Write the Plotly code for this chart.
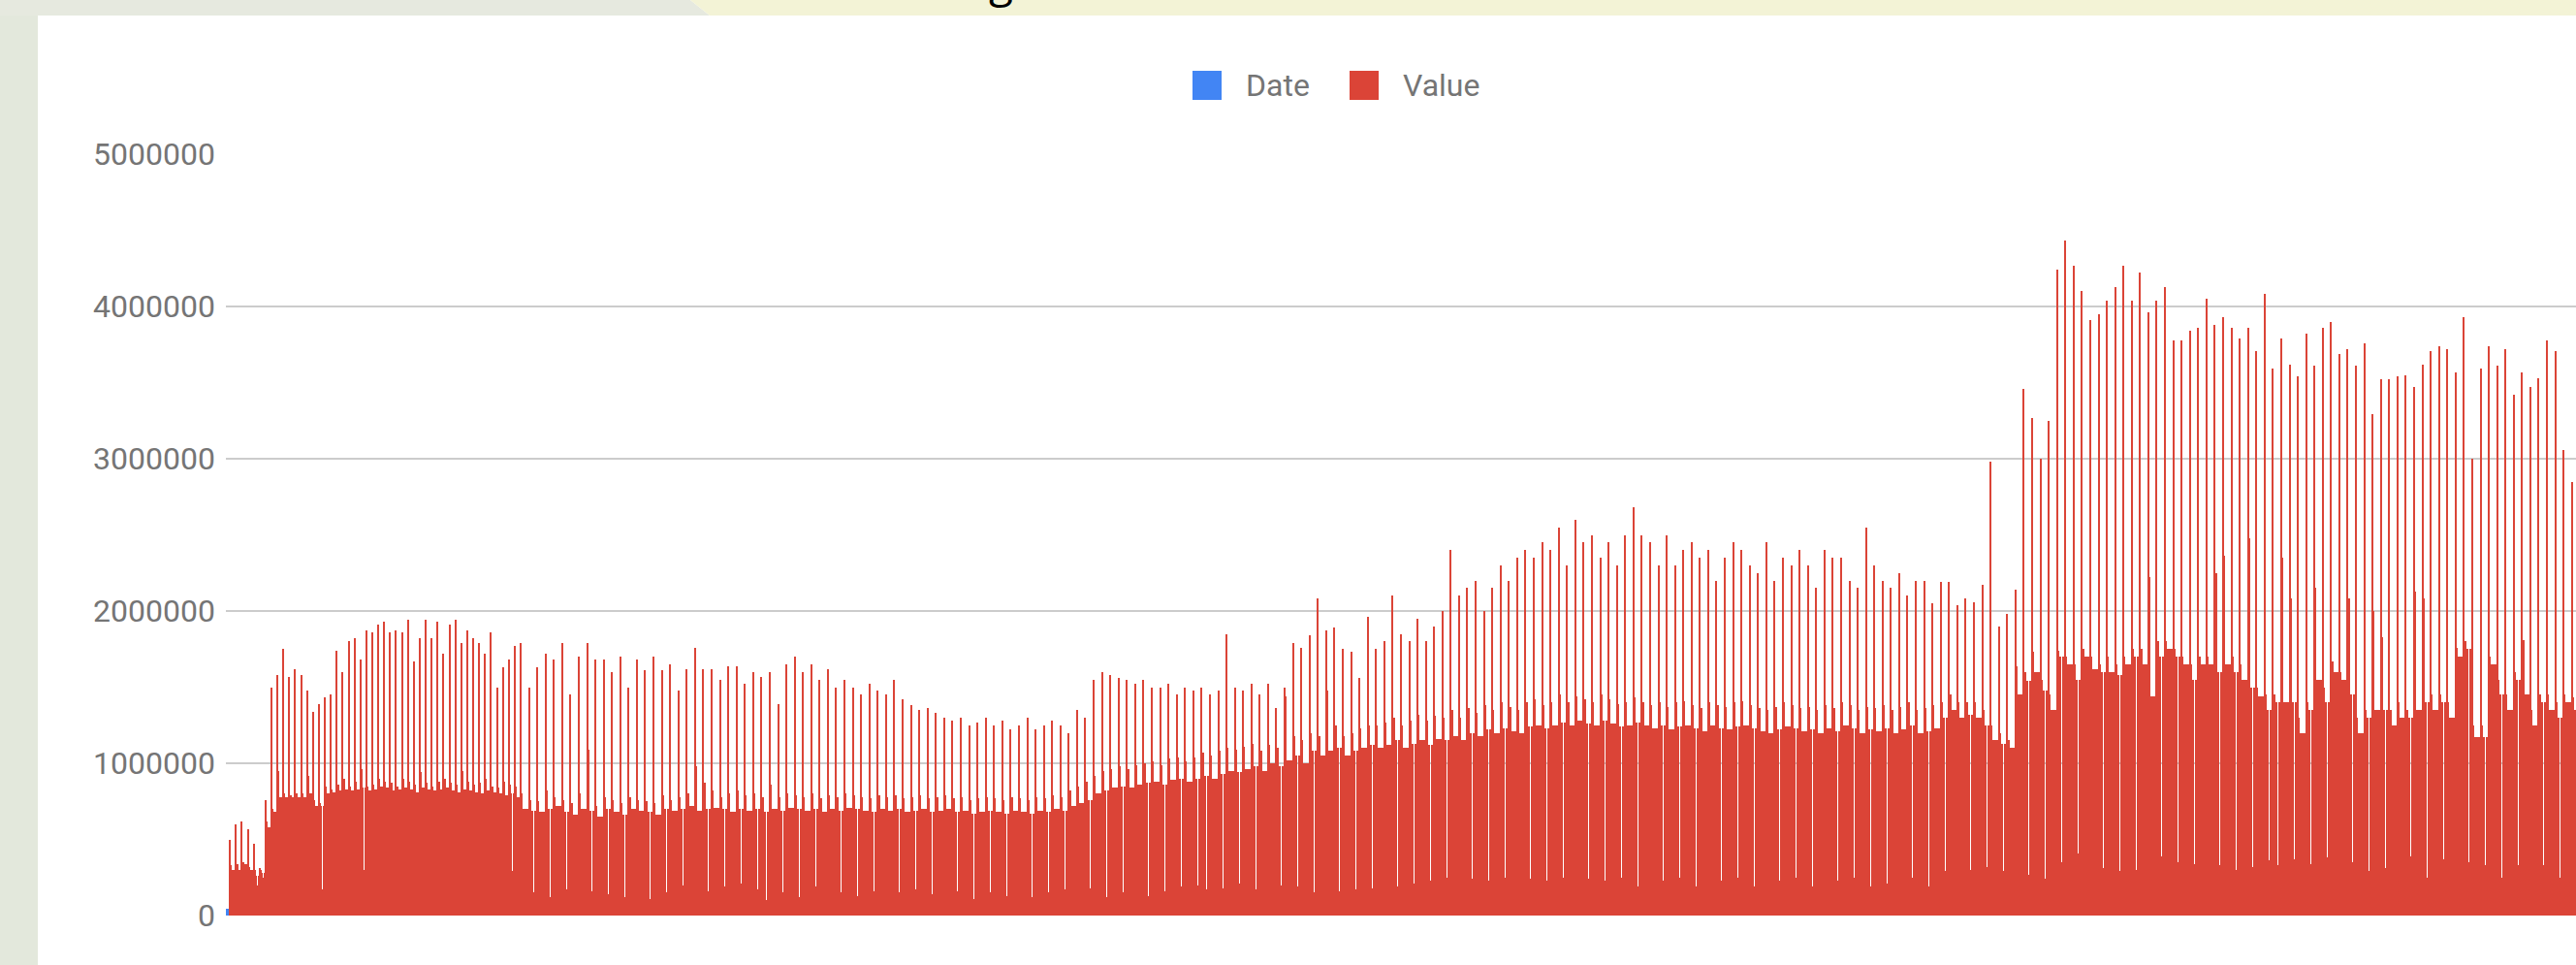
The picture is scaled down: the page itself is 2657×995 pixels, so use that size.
import plotly.graph_objects as go

# ================= data (values in thousands) =================
# Early period: 5 bars per weekly cycle  -> [peak, hi, base, dip, base]
early_peak = [500, 600, 620, 570, 470, 310, 760, 1500, 1580, 1750,
              1570, 1620, 1580, 1480, 1340, 1390, 1430, 1450, 1740, 1600,
              1800, 1820, 1680, 1870, 1860, 1910, 1930, 1860, 1870, 1860,
              1940, 1670, 1820, 1940, 1820, 1930, 1720, 1910, 1940, 1790,
              1870, 1820, 1790, 1720, 1860, 1500, 1630, 1680, 1770]
early_hi = [330, 340, 350, 320, 300, 300, 620, 700, 950, 800,
            790, 800, 800, 920, 760, 740, 850, 830, 860, 900,
            850, 880, 960, 850, 860, 900, 880, 870, 850, 900,
            880, 860, 940, 870, 850, 880, 900, 870, 860, 950,
            880, 860, 870, 900, 850, 840, 880, 860, 850]
early_base = [300, 300, 340, 300, 260, 280, 580, 680, 780, 780,
              780, 780, 780, 800, 720, 720, 800, 810, 820, 830,
              820, 830, 840, 820, 830, 850, 840, 820, 830, 840,
              830, 810, 840, 830, 820, 830, 840, 820, 810, 830,
              820, 810, 800, 820, 810, 800, 790, 800, 780]
early_dip = [300, 230, 340, 300, 200, 250, 580, 680, 210, 780,
             780, 780, 780, 800, 720, 170, 800, 810, 240, 830,
             820, 830, 300, 820, 830, 850, 840, 820, 830, 840,
             830, 810, 840, 830, 210, 830, 840, 820, 810, 830,
             820, 810, 800, 820, 810, 800, 790, 290, 780]

# Later period: 7 bars per weekly cycle -> [peak, hi, base, base, dip, base, base]
peak = [1790, 1500, 1630, 1720, 1680, 1790, 1450, 1700, 1790, 1680,   # k0-9
        1680, 1600, 1700, 1500, 1680, 1610, 1700, 1610, 1650,         # k10-18
        1480, 1620, 1760, 1620, 1620, 1550, 1640, 1640, 1520, 1600,   # k19-28
        1570, 1600, 1390,                                             # k29-31
        1650, 1700, 1600, 1650, 1550, 1620, 1500, 1550, 1500, 1450,   # k32-41
        1520, 1480, 1450, 1550, 1420, 1380, 1350, 1360, 1330, 1300,   # k42-51
        1280, 1300, 1250, 1270, 1300, 1250, 1280, 1220, 1250, 1300,   # k52-61
        1220, 1250, 1280, 1250, 1200, 1350, 1300, 1550, 1600, 1580,   # k62-71
        1560, 1550, 1520, 1550, 1500, 1500, 1520, 1450, 1500, 1480,   # k72-81
        1500, 1450, 1480, 1850, 1500, 1480, 1520,                     # k82-88
        1450, 1520, 1360, 1500, 1790, 1760, 1840, 2080, 1870, 1890,   # k89-98
        1750, 1730, 1560, 1960,                                       # k99-102
        1750, 1800, 2100, 1850, 1800, 1950, 1800, 1900, 2000, 2400,   # k103-112
        2100, 2150, 2200, 2000, 2150, 2300, 2200, 2350, 2400, 2350,   # k113-122
        2450, 2400, 2550, 2300, 2600, 2450, 2500, 2350, 2450, 2300,   # k123-132
        2500, 2680, 2500, 2450, 2300, 2500, 2300, 2400, 2450, 2350,   # k133-142
        2400, 2200, 2350, 2450, 2400, 2300, 2250, 2450, 2200, 2350,   # k143-152
        2300, 2400, 2300, 2150, 2400, 2350, 2350, 2200, 2150, 2550,   # k153-162
        2300, 2200, 2150, 2250, 2100, 2200, 2200, 2050,               # k163-170
        2190, 2190, 2040, 2080, 2060, 2170, 2980, 1900, 1980, 2140,   # k171-180
        3460, 3270, 3000, 3250, 4240, 4430, 4270, 4100, 3910, 3950,   # k181-190
        4040, 4130, 4270, 4040, 4220, 3960, 4040, 4130, 3780, 3780,   # k191-200
        3840, 3860, 4050, 3880, 3930, 3860, 3790, 3860, 3710, 4080,   # k201-210
        3590, 3790, 3620, 3540, 3820, 3610, 3860, 3900, 3690, 3720,   # k211-220
        3610, 3760, 3290, 3520, 3520, 3540, 3550, 3470, 3620, 3710,   # k221-230
        3740, 3720, 3570, 3930, 3000, 3590, 3740, 3610, 3720, 3420,   # k231-240
        3570, 3470, 3530, 3780, 3710, 3060, 2850]                     # k241-247

hi = [800, 760, 750, 820, 780, 760, 740, 800, 1090, 720,
      780, 760, 740, 780, 760, 750, 740, 790, 760,
      780, 800, 980, 870, 820, 780, 800, 820, 790, 800,
      780, 860, 780,
      800, 790, 780, 800, 770, 790, 780, 800, 790, 780,
      770, 790, 780, 790, 770, 780, 790, 770, 780, 790,
      770, 780, 760, 770, 780, 770, 760, 780, 770, 760,
      780, 770, 790, 780, 820, 850, 880, 920, 950, 960,
      980, 960, 990, 1000, 1010, 990, 1030, 1040, 1010, 1040,
      1070, 1050, 1080, 1100, 1090, 1110, 1130,
      1080, 1120, 1100, 1440, 1180, 1150, 1200, 1180, 1480, 1250,
      1180, 1200, 1230, 1250,
      1250, 1270, 1300, 1250, 1280, 1320, 1280, 1310, 1300, 1350,
      1300, 1360, 1330, 1380, 1350, 1400, 1370, 1350, 1400, 1420,
      1380, 1400, 1450, 1400, 1440, 1420, 1400, 1450, 1420, 1390,
      1400, 1430, 1400, 1380, 1400, 1370, 1400, 1410, 1380, 1360,
      1400, 1380, 1370, 1400, 1410, 1380, 1360, 1350, 1370, 1400,
      1380, 1360, 1370, 1350, 1380, 1360, 1400, 1380, 1350, 1370,
      1360, 1380, 1350, 1370, 1400, 1350, 1360, 1380,
      1400, 1450, 1400, 1400, 1400, 1350, 1250, 1200, 1150, 1640,
      1600, 1730, 1550, 1450, 1740, 1700, 1650, 1750, 1700, 1650,
      1700, 1650, 1700, 1750, 1750, 2220, 1800, 1800, 1750, 1700,
      1650, 1700, 1700, 2250, 2360, 1700, 1650, 2480, 1500, 1450,
      1450, 2350, 2080, 1300, 1400, 2150, 1500, 1670, 1600, 2080,
      1300, 1350, 2000, 1830, 1350, 1400, 1350, 2130, 2080, 1450,
      1450, 1400, 1760, 1800, 1250, 1250, 1700, 1550, 1450, 1600,
      1810, 1350, 1450, 1450, 1400, 1450, 1430]

base = [700, 690, 680, 700, 720, 680, 660, 700, 690, 650,
        700, 680, 660, 700, 690, 680, 660, 700, 690,
        700, 720, 690, 700, 710, 700, 680, 700, 690, 700,
        680, 700, 690,
        710, 700, 690, 700, 680, 700, 690, 710, 700, 690,
        680, 700, 690, 700, 680, 690, 700, 680, 690, 700,
        680, 690, 670, 680, 690, 680, 670, 690, 680, 670,
        690, 680, 700, 690, 720, 740, 760, 800, 820, 840,
        850, 840, 860, 870, 880, 860, 890, 900, 880, 900,
        920, 900, 930, 950, 940, 960, 980,
        950, 1000, 980, 1020, 1050, 1000, 1080, 1050, 1080, 1100,
        1050, 1080, 1100, 1120,
        1100, 1120, 1150, 1100, 1130, 1150, 1120, 1160, 1150, 1180,
        1150, 1200, 1180, 1220, 1200, 1230, 1210, 1200, 1240, 1250,
        1230, 1250, 1270, 1250, 1280, 1260, 1250, 1280, 1260, 1240,
        1250, 1270, 1250, 1230, 1250, 1220, 1240, 1250, 1230, 1210,
        1250, 1230, 1220, 1240, 1250, 1230, 1210, 1200, 1220, 1240,
        1230, 1210, 1220, 1200, 1230, 1210, 1250, 1230, 1200, 1220,
        1210, 1230, 1200, 1220, 1250, 1200, 1210, 1230,
        1300, 1350, 1300, 1320, 1300, 1250, 1150, 1130, 1100, 1450,
        1540, 1600, 1480, 1350, 1700, 1650, 1550, 1700, 1620, 1600,
        1600, 1580, 1650, 1700, 1650, 1440, 1700, 1750, 1700, 1650,
        1550, 1650, 1650, 1600, 1650, 1600, 1550, 1500, 1440, 1350,
        1400, 1400, 1400, 1200, 1350, 1550, 1400, 1600, 1550, 1450,
        1200, 1300, 1350, 1350, 1250, 1300, 1300, 1350, 1400, 1350,
        1400, 1300, 1700, 1750, 1170, 1170, 1650, 1450, 1350, 1550,
        1450, 1250, 1400, 1350, 1300, 1400, 1350]

dip = [180, 150, 200, 120, 220, 170, 100, 190, 160, 210,
       140, 180, 120, 200, 170, 110, 190, 150, 100, 200,
       130, 180, 160, 110, 190, 150, 210, 120, 170, 100,
       180, 150, 200, 120, 160, 190, 110, 170, 150, 200,
       130, 180, 160, 120, 190, 150, 110, 170, 200, 140,
       180, 120, 160, 190, 110, 170, 150, 200, 130, 180,
       160, 120, 190, 150, 110, 170, 200, 140, 180, 160,
       120, 190, 150, 210, 170, 130, 180, 160, 120, 190,
       150, 200, 170, 130, 180, 160, 210, 150, 170,
       150, 180, 200, 160, 190, 170, 150, 200, 180, 160,
       190, 170, 210, 180, 200, 220, 190, 240, 210, 180,
       230, 200, 250, 220, 190, 240, 210, 230, 200, 250,
       220, 190, 240, 210, 230, 200, 250, 220, 190, 240,
       210, 230, 200, 250, 220, 190, 240, 210, 230, 200,
       250, 220, 190, 240, 210, 230, 200, 250, 220, 190,
       240, 210, 230, 200, 250, 220, 190, 240, 210, 230,
       200, 250, 220, 190, 240, 210, 230, 200, 250, 220,
       190, 240,
       290, 290, 220, 300, 270, 320, 290, 290, 220, 380,
       270, 240, 240, 300, 350, 320, 410, 370, 370, 310,
       330, 290, 360, 300, 340, 280, 390, 320, 350, 300,
       340, 370, 290, 330, 380, 300, 350, 320, 280, 360,
       330, 300, 370, 290, 340, 310, 380, 320, 300, 350,
       330, 290, 360, 310, 340, 300, 390, 330, 250, 340,
       370, 330, 300, 350, 390, 330, 300, 250, 360, 330,
       300, 390, 330, 350, 250, 300, 330]

date_value = [45]

values = []
for p, h, b, d in zip(early_peak, early_hi, early_base, early_dip):
    values += [p, h, b, d, b]
for p, h, b, d in zip(peak, hi, base, dip):
    values += [p, h, b, b, d, b, b]
values = [v * 1000 for v in values]

# ================= layout geometry =================
W, H = 2657, 995
L, R, T, B = 233, 0, 159, 51
PW, PH = W - L - R, H - T - B
PPB = 1.2237          # pixels per daily bar
X0 = -3.5
X1 = X0 + PW / PPB


def px(xp):
    return (xp - L) / PW


def py(yp):
    return (H - B - yp) / PH


fig = go.Figure()
fig.add_trace(go.Bar(x=[-2], y=[v * 1000 for v in date_value], width=[3], name="Date",
                     marker=dict(color="#4285f4", line=dict(width=0))))
fig.add_trace(go.Bar(x=list(range(len(values))), y=values, name="Value",
                     marker=dict(color="#db4437", line=dict(width=0))))

shapes = [
    dict(type="rect", xref="paper", yref="paper", x0=px(0), x1=px(39), y0=py(995), y1=py(0),
         fillcolor="#e3e8dc", line=dict(width=0)),
    dict(type="path", xref="paper", yref="paper",
         path=f"M {px(0)},{py(0)} L {px(712)},{py(0)} L {px(732)},{py(16)} L {px(0)},{py(16)} Z",
         fillcolor="#e6e9df", line=dict(width=0)),
    dict(type="path", xref="paper", yref="paper",
         path=f"M {px(712)},{py(0)} L {px(2657)},{py(0)} L {px(2657)},{py(16)} L {px(732)},{py(16)} Z",
         fillcolor="#f3f3d6", line=dict(width=0)),
    # legend swatches
    dict(type="rect", xref="paper", yref="paper", x0=px(1230), x1=px(1260), y0=py(103), y1=py(73),
         fillcolor="#4285f4", line=dict(width=0)),
    dict(type="rect", xref="paper", yref="paper", x0=px(1392), x1=px(1422), y0=py(103), y1=py(73),
         fillcolor="#db4437", line=dict(width=0)),
]

annotations = [
    dict(xref="paper", yref="paper", x=px(1283), y=py(88), text="Date", showarrow=False,
         xanchor="left", yanchor="middle", font=dict(family="Roboto", size=32, color="#757575")),
    dict(xref="paper", yref="paper", x=px(1445), y=py(88), text="Value", showarrow=False,
         xanchor="left", yanchor="middle", font=dict(family="Roboto", size=32, color="#757575")),
    dict(xref="paper", yref="paper", x=px(1032), y=py(12), text="g", showarrow=False,
         xanchor="center", yanchor="bottom", font=dict(family="Open Sans", size=46, color="#000000")),
]

fig.update_layout(
    width=W, height=H,
    margin=dict(l=L, r=R, t=T, b=B, pad=0),
    paper_bgcolor="#ffffff", plot_bgcolor="#ffffff",
    barmode="overlay", bargap=0,
    showlegend=False,
    shapes=shapes, annotations=annotations,
    font=dict(family="Roboto", size=32, color="#757575"),
    xaxis=dict(range=[X0, X1], showgrid=False, zeroline=False, showticklabels=False,
               showline=False, ticks=""),
    yaxis=dict(range=[0, 5000000], tickvals=[0, 1000000, 2000000, 3000000, 4000000, 5000000],
               ticktext=["0", "1000000", "2000000", "3000000", "4000000", "5000000"],
               showgrid=True, gridcolor="rgba(0,0,0,0.2)", gridwidth=2, zeroline=False,
               showline=False, ticks="", ticklabelstandoff=10, layer="above traces",
               tickfont=dict(family="Roboto", size=32, color="#757575")),
)

fig.write_html("out.html",
               config={"displayModeBar": False},
               post_script="document.body.style.margin='0';document.body.style.overflow='hidden';")
